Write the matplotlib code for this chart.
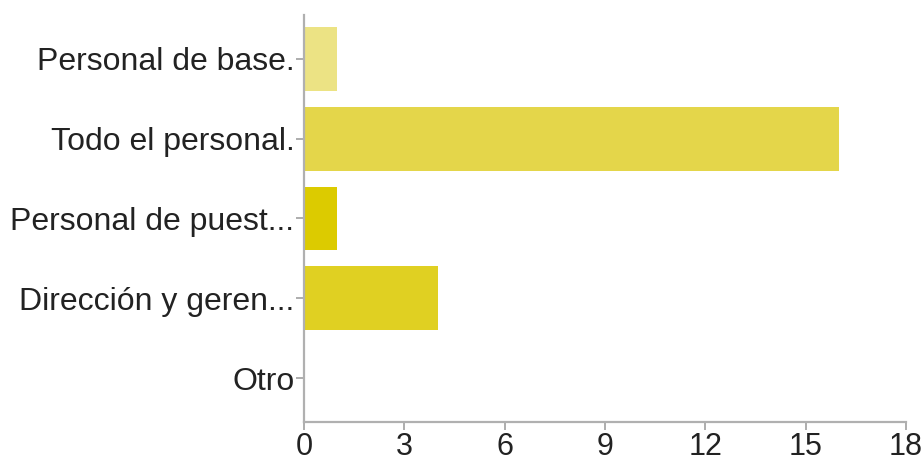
import matplotlib
matplotlib.use("Agg")
import matplotlib.pyplot as plt

# Survey answers and counts (top to bottom)
categories = [
    "Personal de base.",
    "Todo el personal.",
    "Personal de puest...",
    "Dirección y geren...",
    "Otro",
]
counts = [1, 16, 1, 4, 0]
bar_colors = ["#ece384", "#e4d64a", "#dccb00", "#e0d022", "#e0d022"]
xticks = [0, 3, 6, 9, 12, 15, 18]

plt.rcParams["font.family"] = ["Liberation Sans", "DejaVu Sans"]

fig = plt.figure(figsize=(9.24, 4.61), dpi=100)
ax = fig.add_axes([0.329, 0.0846, 0.6515, 0.883])

ypos = list(range(len(categories)))
ax.barh(ypos, counts, height=0.8, color=bar_colors, linewidth=0)

ax.set_xlim(0, 18)
ax.set_ylim(4.55, -0.55)
ax.set_xticks(xticks)
ax.set_xticklabels([str(t) for t in xticks])
ax.set_yticks(ypos)
ax.set_yticklabels(categories)

for side in ["top", "right"]:
    ax.spines[side].set_visible(False)
for side in ["left", "bottom"]:
    ax.spines[side].set_color("#b0b0b0")
    ax.spines[side].set_linewidth(1.6)

ax.tick_params(axis="both", colors="#a0a0a0", length=6, width=1.2,
               labelcolor="#222222")
ax.tick_params(axis="y", pad=1, labelsize=23)
ax.tick_params(axis="x", pad=1, labelsize=22)

fig.savefig("out.png", dpi=100)
plt.close(fig)
